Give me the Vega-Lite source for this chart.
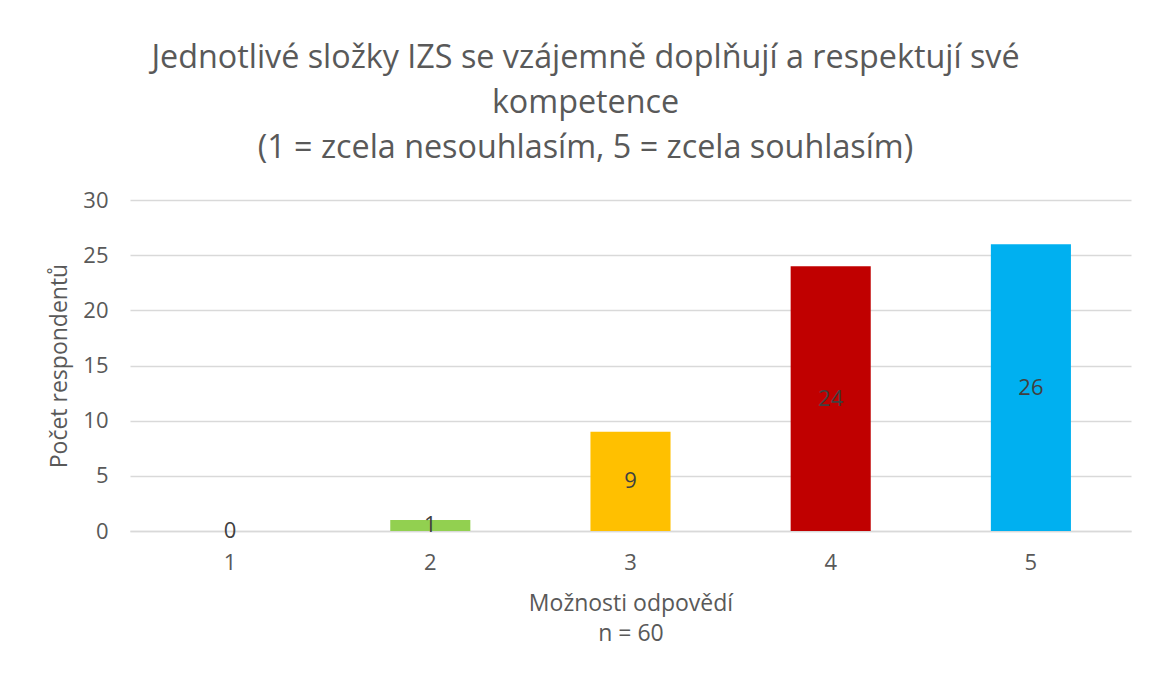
{
  "$schema": "https://vega.github.io/schema/vega-lite/v6.json",
  "width": 1001,
  "height": 331,
  "autosize": {"type": "none"},
  "padding": {"left": 130, "top": 200, "right": 18, "bottom": 143},
  "background": "white",
  "config": {"font": "Open Sans", "view": {"stroke": null}},
  "title": {
    "text": ["Jednotlivé složky IZS se vzájemně doplňují a respektují své", "kompetence", "(1 = zcela nesouhlasím, 5 = zcela souhlasím)"],
    "fontSize": 32.3,
    "font": "Open Sans",
    "fontWeight": "normal",
    "color": "#595959",
    "anchor": "middle",
    "dx": -45,
    "offset": 25,
    "lineHeight": 45
  },
  "data": {
    "values": [
      {"option": "1", "value": 0},
      {"option": "2", "value": 1},
      {"option": "3", "value": 9},
      {"option": "4", "value": 24},
      {"option": "5", "value": 26}
    ]
  },
  "encoding": {
    "x": {
      "field": "option",
      "type": "ordinal",
      "sort": ["1", "2", "3", "4", "5"],
      "scale": {"paddingInner": 0.6, "paddingOuter": 0.3},
      "axis": {
        "labelAngle": 0,
        "labelFontSize": 22,
        "labelColor": "#595959",
        "labelPadding": 21,
        "ticks": false,
        "domainColor": "#D9D9D9",
        "domainWidth": 1.5,
        "title": ["Možnosti odpovědí", "n = 60"],
        "titleFontSize": 23,
        "titleFontWeight": "normal",
        "titleColor": "#595959",
        "titlePadding": 19,
        "titleLineHeight": 30
      }
    }
  },
  "layer": [
    {
      "mark": {"type": "bar"},
      "encoding": {
        "y": {
          "field": "value",
          "type": "quantitative",
          "scale": {"domain": [0, 30]},
          "axis": {
            "values": [0, 5, 10, 15, 20, 25, 30],
            "labelFontSize": 22,
            "labelColor": "#595959",
            "labelPadding": 22,
            "ticks": false,
            "domain": false,
            "gridColor": "#D9D9D9",
            "gridWidth": 1.5,
            "title": "Počet respondentů",
            "titleFontSize": 23,
            "titleFontWeight": "normal",
            "titleColor": "#595959",
            "titlePadding": 11
          }
        },
        "color": {
          "field": "option",
          "type": "nominal",
          "scale": {"domain": ["1", "2", "3", "4", "5"], "range": ["#5B9BD5", "#92D050", "#FFC000", "#C00000", "#00B0F0"]},
          "legend": null
        }
      }
    },
    {
      "mark": {"type": "text", "fontSize": 22, "color": "#404040", "baseline": "middle"},
      "encoding": {
        "y": {"field": "value", "type": "quantitative", "scale": {"domain": [0, 60]}, "axis": null},
        "text": {"field": "value", "type": "quantitative"}
      }
    }
  ],
  "resolve": {"scale": {"y": "independent"}}
}
